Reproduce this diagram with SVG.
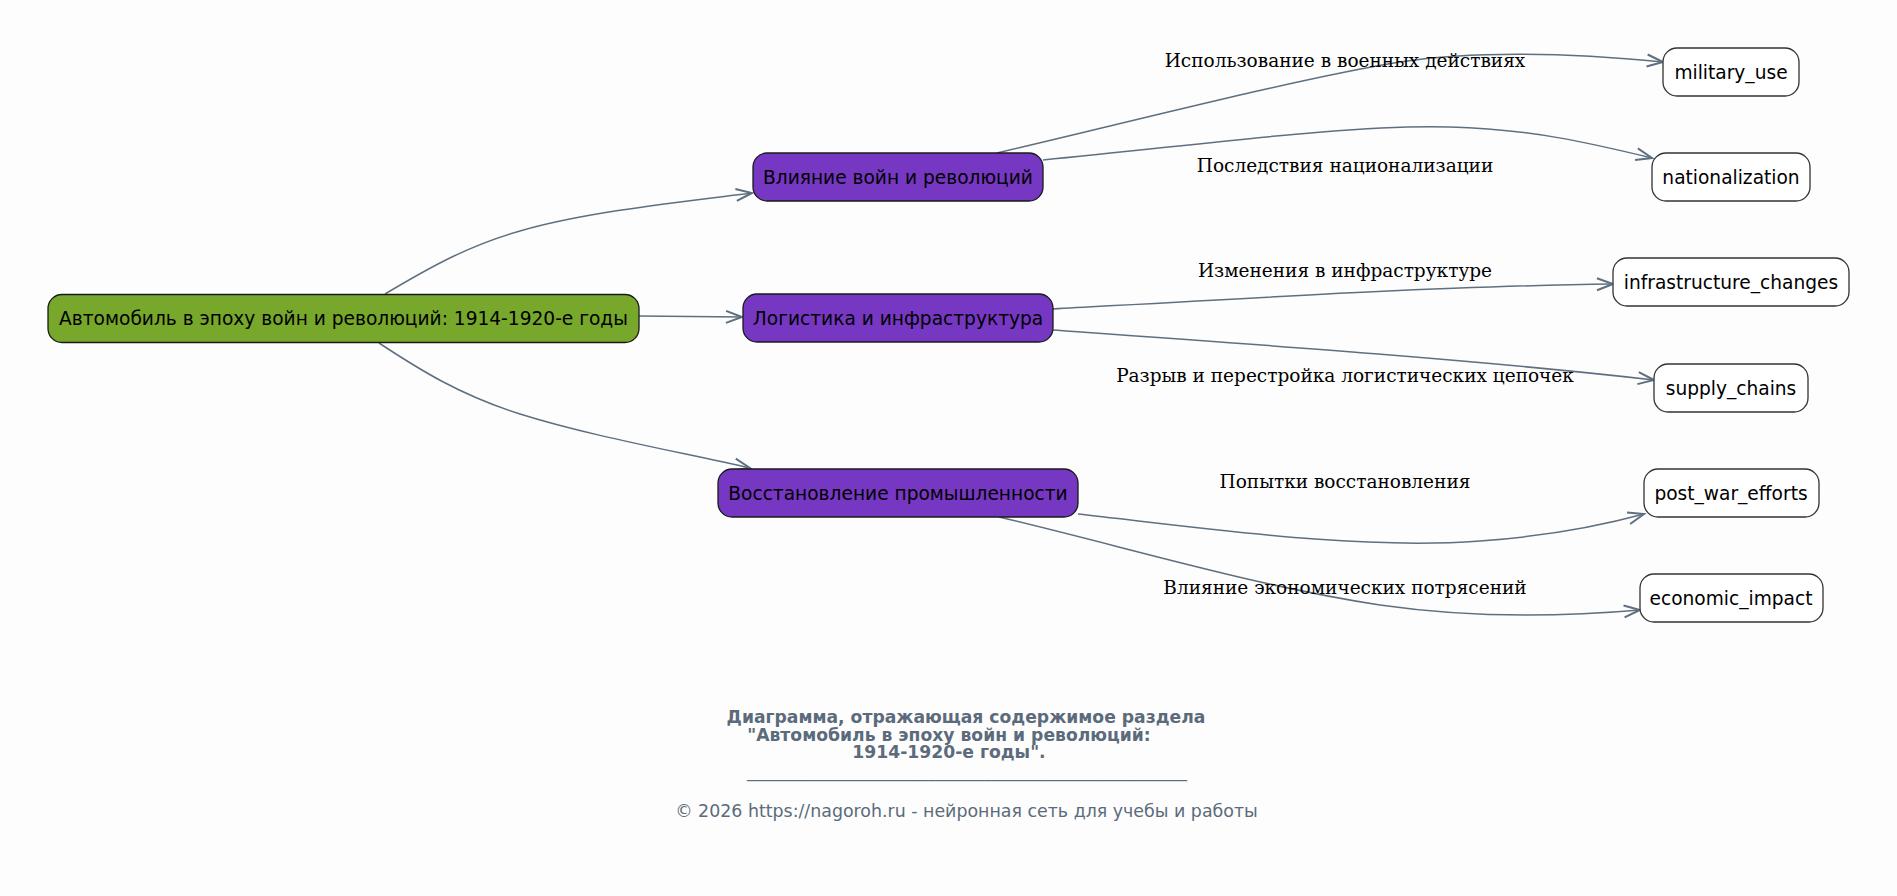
<svg xmlns="http://www.w3.org/2000/svg" width="1897" height="896" viewBox="0 0 1897 896">
<style>
.bg{fill:#fdfdfd}
.node rect{stroke-width:1.3}
.root rect{fill:#77a72b;stroke:#1a1a1a}
.mid rect{fill:#7637c3;stroke:#1a1a1a}
.leaf rect{fill:#ffffff;stroke:#333333}
.nt{font-family:"DejaVu Sans",sans-serif;font-size:18.6px;fill:#000;text-anchor:middle}
.el{font-family:"DejaVu Serif",serif;font-size:18.5px;fill:#000;text-anchor:middle}
.edge{fill:none;stroke:#5f6f7f;stroke-width:1.5;marker-end:url(#arr)}
.ft{font-family:"DejaVu Sans",sans-serif;fill:#5b6b7b;text-anchor:middle}
.ftb{font-size:17.2px;font-weight:bold}
.ftr{font-size:17.4px}
</style>
<defs>
<marker id="arr" markerUnits="userSpaceOnUse" markerWidth="20" markerHeight="16" refX="17" refY="7" orient="auto" viewBox="0 0 20 14">
<path d="M1,1 L17,7 L1,13" fill="none" stroke="#5f6f7f" stroke-width="2"/>
</marker>
</defs>
<rect class="bg" x="0" y="0" width="1897" height="896"/>
<g id="connectors">
<path class="edge" d="M385,294 C432,266 470,245 520,231 C585,212 680,202 752,193"/>
<path class="edge" d="M639,316 L742,317"/>
<path class="edge" d="M379,343 C420,370 460,395 520,414 C590,436 680,452 750,468"/>
<path class="edge" d="M997,153 C1130,122 1300,78 1400,62 C1480,50 1570,53 1663,62"/>
<path class="edge" d="M1043,160 C1200,145 1350,124 1450,127 C1530,129 1590,143 1652,158"/>
<path class="edge" d="M1053,309 C1250,298 1450,286 1613,284"/>
<path class="edge" d="M1053,330 C1250,344 1480,360 1654,380"/>
<path class="edge" d="M1078,514 C1220,530 1360,550 1480,541 C1550,536 1600,526 1644,514"/>
<path class="edge" d="M999,517 C1130,548 1250,585 1380,605 C1470,618 1560,617 1640,610"/>
<text class="el" x="1345" y="67">Использование в военных действиях</text>
<text class="el" x="1345" y="172">Последствия национализации</text>
<text class="el" x="1345" y="277">Изменения в инфраструктуре</text>
<text class="el" x="1345" y="382">Разрыв и перестройка логистических цепочек</text>
<text class="el" x="1345" y="488">Попытки восстановления</text>
<text class="el" x="1345" y="594">Влияние экономических потрясений</text>
</g>
<g id="root" class="node root"><rect x="48" y="294.5" width="591" height="48" rx="14"/><text class="nt" x="343.5" y="325">Автомобиль в эпоху войн и революций: 1914-1920-е годы</text></g>
<g id="wars" class="node mid"><rect x="753" y="153" width="290" height="48" rx="14"/><text class="nt" x="898" y="184">Влияние войн и революций</text></g>
<g id="logistics" class="node mid"><rect x="743" y="294" width="310" height="48" rx="14"/><text class="nt" x="898" y="325">Логистика и инфраструктура</text></g>
<g id="recovery" class="node mid"><rect x="718" y="469" width="360" height="48" rx="14"/><text class="nt" x="898" y="500">Восстановление промышленности</text></g>
<g id="military_use" class="node leaf"><rect x="1663" y="48" width="136" height="48" rx="14"/><text class="nt" x="1731" y="79">military_use</text></g>
<g id="nationalization" class="node leaf"><rect x="1652" y="153" width="158" height="48" rx="14"/><text class="nt" x="1731" y="184">nationalization</text></g>
<g id="infrastructure_changes" class="node leaf"><rect x="1613" y="258" width="236" height="48" rx="14"/><text class="nt" x="1731" y="289">infrastructure_changes</text></g>
<g id="supply_chains" class="node leaf"><rect x="1654" y="364" width="154" height="48" rx="14"/><text class="nt" x="1731" y="395">supply_chains</text></g>
<g id="post_war_efforts" class="node leaf"><rect x="1644" y="469" width="175" height="48" rx="14"/><text class="nt" x="1731" y="500">post_war_efforts</text></g>
<g id="economic_impact" class="node leaf"><rect x="1640" y="574" width="183" height="48" rx="14"/><text class="nt" x="1731" y="605">economic_impact</text></g>
<g id="footer" class="ft">
<text class="ftb" x="966" y="723">Диаграмма, отражающая содержимое раздела</text>
<text class="ftb" x="949" y="741">"Автомобиль в эпоху войн и революций:</text>
<text class="ftb" x="949" y="758">1914-1920-е годы".</text>
<text class="ftr" x="967" y="777" textLength="440" lengthAdjust="spacingAndGlyphs">_______________________________________________________________</text>
<text class="ftr" x="966.5" y="817">© 2026 https://nagoroh.ru - нейронная сеть для учебы и работы</text>
</g>
</svg>
